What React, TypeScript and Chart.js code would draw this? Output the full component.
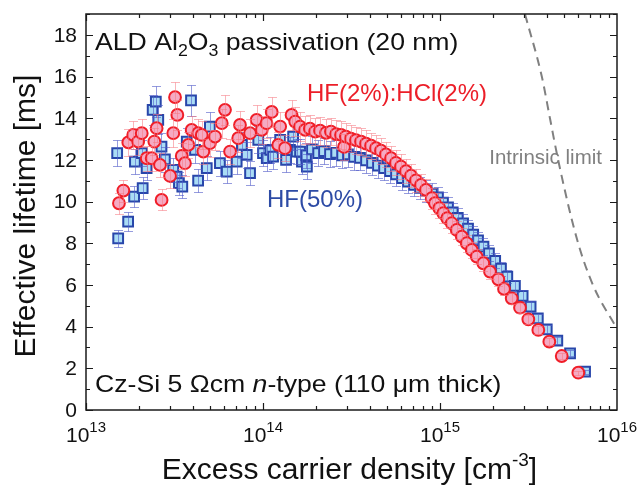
import React, { useEffect, useRef } from "react";
import { Chart, registerables } from "chart.js";

Chart.register(...registerables);

const FONT = '"Liberation Sans", Arial, Helvetica, sans-serif';

// Axis ranges and ticks
const X_MIN = 1e13;
const X_MAX = 1e16;
const Y_MIN = 0;
const Y_MAX = 19;
const Y_TICKS = [0, 2, 4, 6, 8, 10, 12, 14, 16, 18];
const X_DECADES = [13, 14, 15, 16];

// HF(50%) series: excess carrier density [cm^-3], effective lifetime [ms]
const blueDensity = [
  1.5e13, 1.52e13, 1.73e13, 1.87e13, 1.89e13, 2.07e13, 2.09e13, 2.2e13, 2.38e13, 2.48e13,
  2.56e13, 2.67e13, 2.79e13, 3.11e13, 3.25e13, 3.35e13, 3.5e13, 3.71e13, 3.92e13, 4.13e13,
  4.3e13, 4.81e13, 5.01e13, 5.71e13, 6.24e13, 7.1e13, 7.6e13, 8.09e13, 8.45e13, 9.4e13,
  1.0e14, 1.05e14, 1.1e14, 1.14e14, 1.25e14, 1.35e14, 1.42e14, 1.48e14, 1.55e14, 1.66e14,
  1.77e14, 1.62e14, 1.75e14, 1.89e14, 2.05e14, 2.21e14, 2.39e14, 2.59e14, 2.8e14, 3.02e14,
  3.27e14, 3.53e14, 3.82e14, 4.13e14, 4.46e14, 4.83e14, 5.22e14, 5.64e14, 6.1e14, 6.59e14,
  7.13e14, 7.71e14, 8.33e14, 9.01e14, 9.74e14, 1.04e15, 1.11e15, 1.18e15, 1.26e15, 1.35e15,
  1.44e15, 1.54e15, 1.64e15, 1.76e15, 1.89e15, 2.05e15, 2.21e15, 2.4e15, 2.65e15, 2.93e15,
  3.25e15, 3.57e15, 4.01e15, 4.6e15, 5.43e15, 6.6e15,
];
const blueLifetime = [
  12.32, 8.24, 9.04, 10.24, 11.92, 12.32, 10.64, 11.6, 14.4, 14.8,
  13.92, 12.64, 12.03, 11.52, 11.2, 10.88, 10.72, 12.88, 14.85, 12.48,
  11.0, 11.6, 13.6, 11.84, 11.44, 11.92, 12.72, 12.24, 11.36, 12.96,
  12.32, 12.08, 12.48, 12.16, 12.96, 12.0, 12.48, 13.12, 12.4, 11.92,
  11.68, 12.4, 12.22, 12.5, 12.32, 12.42, 12.28, 12.34, 12.22, 12.26,
  12.14, 12.1, 11.98, 11.86, 11.72, 11.6, 11.46, 11.3, 11.12, 10.96,
  10.8, 10.66, 10.52, 10.38, 10.2, 9.95, 9.72, 9.48, 9.22, 8.96,
  8.7, 8.42, 8.14, 7.84, 7.52, 7.16, 6.78, 6.4, 5.95, 5.47,
  4.96, 4.4, 3.87, 3.33, 2.72, 1.84,
];

// HF(2%):HCl(2%) series
const redDensity = [
  1.535e13, 1.626e13, 1.734e13, 1.849e13, 1.972e13, 2.065e13, 2.203e13, 2.35e13, 2.432e13, 2.506e13,
  2.618e13, 2.673e13, 2.985e13, 3.112e13, 3.184e13, 3.281e13, 3.475e13, 3.622e13, 3.784e13, 3.954e13,
  4.306e13, 4.508e13, 4.603e13, 5.012e13, 5.358e13, 5.848e13, 6.1e13, 6.516e13, 7.244e13, 7.413e13,
  8.453e13, 9.204e13, 9.84e13, 1.047e14, 1.12e14, 1.22e14, 1.25e14, 1.33e14, 1.45e14, 1.52e14,
  1.62e14, 1.73e14, 1.84e14, 1.97e14, 2.1e14, 2.27e14, 2.42e14, 2.59e14, 2.76e14, 2.87e14,
  2.94e14, 3.14e14, 3.35e14, 3.58e14, 3.82e14, 4.08e14, 4.35e14, 4.64e14, 4.95e14, 5.29e14,
  5.64e14, 6.02e14, 6.43e14, 6.86e14, 7.32e14, 7.81e14, 8.33e14, 8.98e14, 9.37e14, 9.91e14,
  1.044e15, 1.099e15, 1.165e15, 1.243e15, 1.327e15, 1.416e15, 1.511e15, 1.612e15, 1.757e15, 1.916e15,
  2.135e15, 2.3e15, 2.542e15, 2.832e15, 3.155e15, 3.593e15, 4.146e15, 4.872e15, 6.046e15,
];
const redLifetime = [
  9.92, 10.53, 12.84, 13.2, 12.88, 13.28, 12.08, 12.08, 12.88, 13.52,
  11.76, 10.08, 11.23, 13.28, 15.01, 14.16, 12.19, 11.84, 12.72, 13.44,
  13.28, 13.2, 12.4, 12.8, 13.12, 13.76, 14.4, 12.4, 13.04, 13.68,
  13.28, 13.92, 13.44, 13.76, 14.3, 12.72, 13.6, 12.56, 14.16, 13.84,
  13.6, 13.44, 13.5, 13.36, 13.4, 13.3, 13.36, 13.24, 13.2, 12.62,
  13.12, 13.02, 12.95, 12.88, 12.78, 12.68, 12.56, 12.44, 12.26, 12.08,
  11.86, 11.68, 11.46, 11.24, 11.02, 10.8, 10.56, 10.16, 9.92, 9.68,
  9.44, 9.2, 8.96, 8.64, 8.32, 8.0, 7.68, 7.36, 7.04, 6.64,
  6.27, 5.81, 5.36, 4.91, 4.35, 3.84, 3.28, 2.59, 1.79,
];

// Relative measurement uncertainty shown as error bars
const REL_ERROR = 0.05;

// Intrinsic lifetime limit (dashed)
const intrinsicDensity = [3.02e15, 3.76e15, 4.18e15, 4.65e15, 5.94e15, 7.31e15, 1.0e16];
const intrinsicLifetime = [19.0, 16.0, 14.0, 12.0, 8.2, 6.0, 3.9];

type Seg = { t: string; size: number; dy?: number; italic?: boolean };

function fontOf(s: Seg) {
  return `${s.italic ? "italic " : ""}${s.size}px ${FONT}`;
}

function drawRich(
  ctx: CanvasRenderingContext2D,
  segs: Seg[],
  x: number,
  y: number,
  align: "left" | "center" | "right",
  color: string,
  sx: number = 1
) {
  ctx.save();
  ctx.fillStyle = color;
  ctx.textBaseline = "alphabetic";
  ctx.textAlign = "left";
  const widths = segs.map((s) => {
    ctx.font = fontOf(s);
    return ctx.measureText(s.t).width;
  });
  const total = widths.reduce((a, b) => a + b, 0) * sx;
  const x0 = align === "left" ? x : align === "center" ? x - total / 2 : x - total;
  ctx.translate(x0, y);
  ctx.scale(sx, 1);
  let cx = 0;
  segs.forEach((s, i) => {
    ctx.font = fontOf(s);
    ctx.fillText(s.t, cx, s.dy || 0);
    cx += widths[i];
  });
  ctx.restore();
}

const decorPlugin = {
  id: "decor",
  afterDatasetDraw(chart: any, args: any) {
    const ds = chart.data.datasets[args.index];
    if (!ds.errRel) return;
    const { ctx, chartArea: a } = chart;
    const yScale = chart.scales.y;
    ctx.save();
    ctx.beginPath();
    ctx.rect(a.left, a.top, a.right - a.left, a.bottom - a.top);
    ctx.clip();
    ctx.strokeStyle = ds.errColor;
    ctx.lineWidth = 1;
    const cap = 4.5;
    args.meta.data.forEach((el: any, i: number) => {
      const v = ds.data[i].y;
      const yt = Math.round(yScale.getPixelForValue(v * (1 + ds.errRel))) + 0.5;
      const yb = Math.round(yScale.getPixelForValue(v * (1 - ds.errRel))) + 0.5;
      const x = Math.round(el.x) + 0.5;
      ctx.beginPath();
      ctx.moveTo(x, yt);
      ctx.lineTo(x, yb);
      ctx.moveTo(x - cap, yt);
      ctx.lineTo(x + cap, yt);
      ctx.moveTo(x - cap, yb);
      ctx.lineTo(x + cap, yb);
      ctx.stroke();
    });
    ctx.restore();
  },
  afterDraw(chart: any) {
    const { ctx, chartArea: a } = chart;
    const xs = chart.scales.x;
    const ys = chart.scales.y;
    ctx.save();
    ctx.strokeStyle = "#1a1a1a";
    ctx.lineWidth = 1.5;
    ctx.strokeRect(a.left, a.top, a.right - a.left, a.bottom - a.top);

    // y ticks (major at even, minor at odd)
    ctx.lineWidth = 1.2;
    ctx.beginPath();
    for (let v = Y_MIN; v <= Y_MAX; v++) {
      const py = Math.round(ys.getPixelForValue(v)) + 0.5;
      const len = v % 2 === 0 ? 7 : 4;
      ctx.moveTo(a.left, py);
      ctx.lineTo(a.left + len, py);
      ctx.moveTo(a.right, py);
      ctx.lineTo(a.right - len, py);
    }
    // x ticks
    for (let e = 13; e <= 15; e++) {
      for (let m = 1; m <= 9; m++) {
        const px = Math.round(xs.getPixelForValue(m * Math.pow(10, e))) + 0.5;
        const len = m === 1 ? 7 : 4;
        ctx.moveTo(px, a.bottom);
        ctx.lineTo(px, a.bottom - len);
        ctx.moveTo(px, a.top);
        ctx.lineTo(px, a.top + len);
      }
    }
    ctx.stroke();

    // y tick labels
    ctx.fillStyle = "#111";
    ctx.font = `21px ${FONT}`;
    ctx.textAlign = "right";
    ctx.textBaseline = "middle";
    Y_TICKS.forEach((v) => {
      ctx.fillText(String(v), a.left - 9, ys.getPixelForValue(v) + 1);
    });

    // x tick labels
    X_DECADES.forEach((e) => {
      const px = xs.getPixelForValue(Math.pow(10, e));
      drawRich(
        ctx,
        [
          { t: "10", size: 21 },
          { t: String(e), size: 15, dy: -10 },
        ],
        px,
        a.bottom + 32,
        "center",
        "#111"
      );
    });

    // axis titles
    drawRich(
      ctx,
      [
        { t: "Excess carrier density [cm", size: 30 },
        { t: "-3", size: 19, dy: -13 },
        { t: "]", size: 30 },
      ],
      (a.left + a.right) / 2 - 2,
      479,
      "center",
      "#111"
    );
    ctx.save();
    ctx.translate(35, (a.top + a.bottom) / 2 + 4);
    ctx.rotate(-Math.PI / 2);
    drawRich(ctx, [{ t: "Effective lifetime [ms]", size: 30 }], 0, 0, "center", "#111");
    ctx.restore();

    // annotations
    drawRich(
      ctx,
      [
        { t: "ALD Al", size: 24 },
        { t: "2", size: 16, dy: 6 },
        { t: "O", size: 24 },
        { t: "3", size: 16, dy: 6 },
        { t: " passivation (20 nm)", size: 24 },
      ],
      95,
      50,
      "left",
      "#111",
      1.11
    );
    drawRich(
      ctx,
      [
        { t: "Cz-Si 5 \u03A9cm ", size: 24 },
        { t: "n", size: 24, italic: true },
        { t: "-type (110 \u03BCm thick)", size: 24 },
      ],
      95,
      392,
      "left",
      "#111",
      1.11
    );
    drawRich(ctx, [{ t: "HF(2%):HCl(2%)", size: 24 }], 487, 101, "right", "rgb(236,30,40)");
    drawRich(ctx, [{ t: "HF(50%)", size: 24 }], 267, 207, "left", "rgb(45,75,165)");
    drawRich(ctx, [{ t: "Intrinsic limit", size: 20.5 }], 602, 164, "right", "rgb(128,128,128)");
    ctx.restore();
  },
};

export default function App() {
  const ref = useRef<HTMLCanvasElement | null>(null);
  useEffect(() => {
    if (!ref.current) return;
    const blue = blueDensity.map((n, i) => ({ x: n, y: blueLifetime[i] }));
    const red = redDensity.map((n, i) => ({ x: n, y: redLifetime[i] }));
    const intrinsic = intrinsicDensity.map((n, i) => ({ x: n, y: intrinsicLifetime[i] }));
    const chart = new Chart(ref.current, {
      type: "scatter",
      data: {
        datasets: [
          {
            label: "Intrinsic limit",
            data: intrinsic,
            showLine: true,
            borderColor: "rgb(128,128,128)",
            borderWidth: 2,
            borderDash: [9, 6],
            pointRadius: 0,
            cubicInterpolationMode: "monotone",
            fill: false,
            order: 3,
          } as any,
          {
            label: "HF(50%)",
            data: blue,
            pointStyle: "rect",
            pointRadius: 6.9,
            backgroundColor: "rgb(170,220,245)",
            borderColor: "rgb(40,70,170)",
            borderWidth: 2,
            order: 2,
            errRel: REL_ERROR,
            errColor: "rgba(80,90,200,0.6)",
          } as any,
          {
            label: "HF(2%):HCl(2%)",
            data: red,
            pointStyle: "circle",
            pointRadius: 5.9,
            backgroundColor: "rgb(245,170,195)",
            borderColor: "rgb(240,30,40)",
            borderWidth: 2,
            order: 1,
            errRel: REL_ERROR,
            errColor: "rgba(245,120,130,0.55)",
          } as any,
        ],
      },
      options: {
        responsive: false,
        animation: false,
        devicePixelRatio: 1,
        events: [],
        layout: { padding: { left: 0, right: 24, top: 14, bottom: 0 } },
        plugins: { legend: { display: false }, tooltip: { enabled: false } },
        scales: {
          x: {
            type: "logarithmic",
            min: X_MIN,
            max: X_MAX,
            grid: { display: false },
            border: { display: false },
            ticks: { display: false },
            afterFit: (s: any) => {
              s.height = 79;
            },
          },
          y: {
            type: "linear",
            min: Y_MIN,
            max: Y_MAX,
            grid: { display: false },
            border: { display: false },
            ticks: { display: false },
            afterFit: (s: any) => {
              s.width = 86;
            },
          },
        },
      } as any,
      plugins: [decorPlugin],
    });
    return () => chart.destroy();
  }, []);
  return (
    <div style={{ position: "absolute", left: 0, top: 0, width: 641, height: 489, background: "#fff" }}>
      <canvas ref={ref} width={641} height={489} />
    </div>
  );
}
